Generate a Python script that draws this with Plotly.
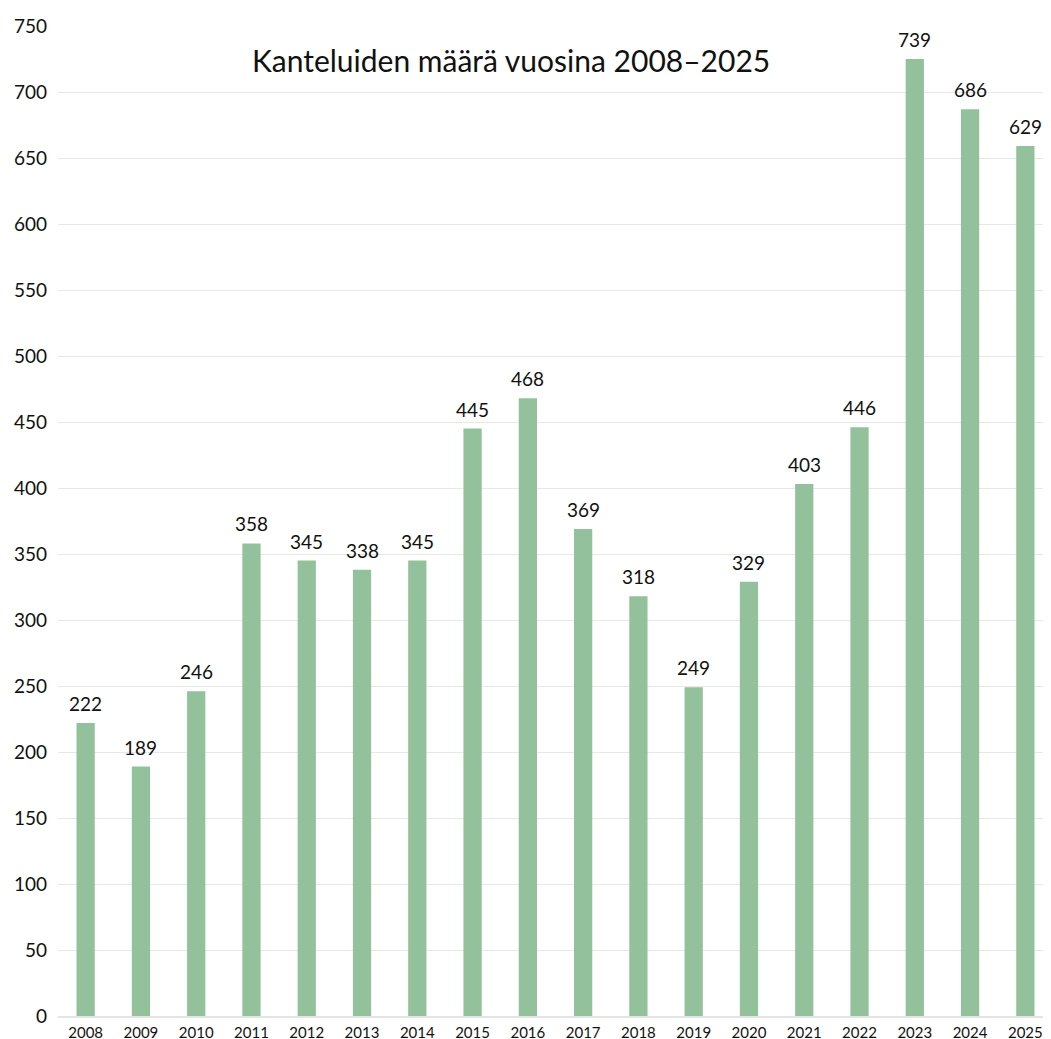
import plotly.graph_objs as go

years = [str(y) for y in range(2008, 2026)]
# bar heights as drawn in the picture
bar_values = [222, 189, 246, 358, 345, 338, 345, 445, 468, 369, 318, 249, 329, 403, 446, 725, 687, 659]
# labels printed above the bars
bar_labels = ['222', '189', '246', '358', '345', '338', '345', '445', '468', '369',
              '318', '249', '329', '403', '446', '739', '686', '629']
y_ticks = list(range(0, 751, 50))

font_family = 'Lato, Inter, sans-serif'

fig = go.Figure(data=go.Bar(
    x=years,
    y=bar_values,
    marker=dict(color='#93c19c', line=dict(width=0)),
    width=0.33,
    hoverinfo='x+y'
))

# labels above bars (index position on the category axis)
for i, (val, lab) in enumerate(zip(bar_values, bar_labels)):
    fig.add_annotation(
        x=i, y=val, text=lab, showarrow=False,
        yanchor='bottom', yshift=6,
        font=dict(family=font_family, size=19, color='#111111')
    )

fig.add_annotation(
    xref='paper', yref='paper', x=0.455, y=0.966,
    text='Kanteluiden määrä vuosina 2008–2025', showarrow=False,
    xanchor='center', yanchor='middle',
    font=dict(family=font_family, size=30, color='#111111')
)

fig.update_layout(
    width=1051, height=1039,
    margin=dict(l=39, r=6, t=11, b=27),
    paper_bgcolor='white', plot_bgcolor='white',
    showlegend=False,
    font=dict(family=font_family, color='#111111'),
    xaxis=dict(
        type='category',
        categoryorder='array', categoryarray=years,
        range=[-0.5, len(years) - 0.5],
        showgrid=False,
        showline=True, linecolor='#e4e4e0', linewidth=2,
        ticks='', tickfont=dict(size=15),
        ticklabelstandoff=2
    ),
    yaxis=dict(
        range=[0, 750],
        tickvals=y_ticks,
        showgrid=True, gridcolor='#e8e8e6', gridwidth=1,
        zeroline=False,
        ticks='', tickfont=dict(size=19),
        ticklabelstandoff=10,
        ticklabeloverflow='allow'
    )
)

fig.write_html("out.html")
